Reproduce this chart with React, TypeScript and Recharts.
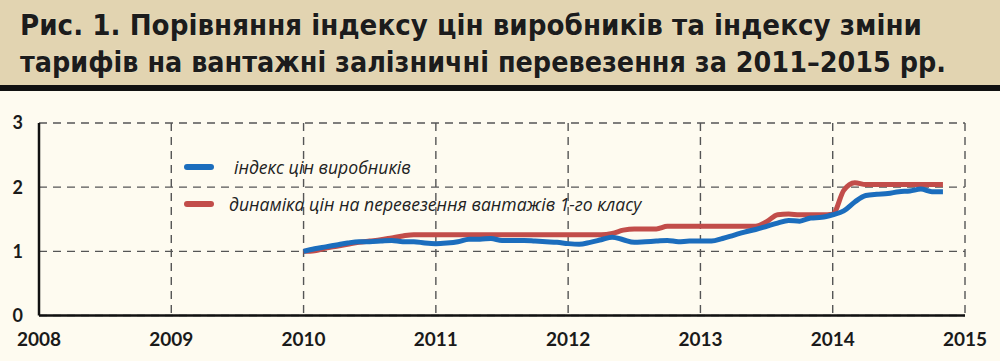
import { LineChart, Line, XAxis, YAxis, CartesianGrid } from 'recharts';

// monthly observations, Jan 2010 .. Nov 2014
const months = [
  '2010-01', '2010-02', '2010-03', '2010-04', '2010-05', '2010-06', '2010-07', '2010-08', '2010-09', '2010-10', '2010-11', '2010-12',
  '2011-01', '2011-02', '2011-03', '2011-04', '2011-05', '2011-06', '2011-07', '2011-08', '2011-09', '2011-10', '2011-11', '2011-12',
  '2012-01', '2012-02', '2012-03', '2012-04', '2012-05', '2012-06', '2012-07', '2012-08', '2012-09', '2012-10', '2012-11', '2012-12',
  '2013-01', '2013-02', '2013-03', '2013-04', '2013-05', '2013-06', '2013-07', '2013-08', '2013-09', '2013-10', '2013-11', '2013-12',
  '2014-01', '2014-02', '2014-03', '2014-04', '2014-05', '2014-06', '2014-07', '2014-08', '2014-09', '2014-10', '2014-11',
];

const producerIndex = [
  1.0, 1.04, 1.07, 1.1, 1.13, 1.15, 1.15, 1.16, 1.17, 1.15, 1.15, 1.13,
  1.12, 1.13, 1.15, 1.19, 1.19, 1.2, 1.17, 1.17, 1.17, 1.16, 1.15, 1.14,
  1.12, 1.11, 1.14, 1.18, 1.22, 1.18, 1.14, 1.15, 1.16, 1.17, 1.15, 1.16,
  1.16, 1.16, 1.2, 1.25, 1.3, 1.34, 1.39, 1.44, 1.48, 1.47, 1.52, 1.53,
  1.57, 1.63, 1.77, 1.87, 1.89, 1.9, 1.93, 1.94, 1.97, 1.93, 1.93,
];

const freightTariff = [
  1.0, 1.01, 1.05, 1.08, 1.11, 1.14, 1.16, 1.18, 1.21, 1.24, 1.26, 1.26,
  1.26, 1.26, 1.26, 1.26, 1.26, 1.26, 1.26, 1.26, 1.26, 1.26, 1.26, 1.26,
  1.26, 1.26, 1.26, 1.26, 1.28, 1.33, 1.35, 1.35, 1.35, 1.39, 1.39, 1.39,
  1.39, 1.39, 1.39, 1.39, 1.39, 1.39, 1.46, 1.57, 1.58, 1.57, 1.57, 1.57,
  1.58, 1.95, 2.07, 2.04, 2.04, 2.04, 2.04, 2.04, 2.04, 2.04, 2.04,
];

const yearTicks = [2008, 2009, 2010, 2011, 2012, 2013, 2014, 2015];
const valueTicks = [0, 1, 2, 3];

const titleLines = [
  'Рис. 1. Порівняння індексу цін виробників та індексу зміни',
  'тарифів на вантажні залізничні перевезення за 2011–2015 рр.',
];

const seriesNames = ['індекс цін виробників', 'динаміка цін на перевезення вантажів 1-го класу'];

const BLUE = '#1b6dbd';
const RED = '#c24d4a';

const data = months.map((m, i) => {
  const [y, mo] = m.split('-').map(Number);
  return { t: y + (mo - 1) / 12, ppi: producerIndex[i], tariff: freightTariff[i] };
});

function LegendBox() {
  const items = [
    { color: BLUE, label: seriesNames[0], gap: 20 },
    { color: RED, label: seriesNames[1], gap: 15 },
  ];
  return (
    <div style={{ position: 'absolute', left: 184, top: 148 }}>
      {items.map((it) => (
        <div key={it.label} style={{ display: 'flex', alignItems: 'center', height: 37 }}>
          <svg width={30} height={8}>
            <line x1={3} y1={4} x2={27} y2={4} stroke={it.color} strokeWidth={6} strokeLinecap="round" />
          </svg>
          <span
            style={{
              marginLeft: it.gap,
              fontFamily: '"Open Sans", sans-serif',
              fontStyle: 'italic',
              fontSize: 17.6,
              color: '#222',
              whiteSpace: 'nowrap',
            }}
          >
            {it.label}
          </span>
        </div>
      ))}
    </div>
  );
}

export default function App() {
  return (
    <div style={{ position: 'relative', width: 1000, height: 361, background: '#fefbf0', overflow: 'hidden' }}>
      <style>{`body{margin:0}`}</style>
      <svg width={1000} height={91} style={{ position: 'absolute', left: 0, top: 0 }}>
        <rect x={0} y={0} width={1000} height={85} fill="#e2d4b1" />
        <rect x={0} y={85} width={1000} height={6} fill="#111" />
        {titleLines.map((line, i) => (
          <text
            key={i}
            x={20}
            y={i === 0 ? 35 : 72}
            textLength={i === 0 ? 902 : 926}
            lengthAdjust="spacingAndGlyphs"
            fill="#1c1c1c"
            stroke="#efe6cf"
            strokeWidth={0.6}
            paintOrder="stroke"
            style={{
              fontFamily: '"Liberation Sans Narrow", "DejaVu Sans Condensed", Roboto, sans-serif',
              fontWeight: 700,
              fontSize: 29,
            }}
          >
            {line}
          </text>
        ))}
      </svg>
      <div style={{ position: 'absolute', left: 0, top: 90 }}>
        <LineChart width={1000} height={271} data={data} margin={{ top: 33, right: 35, left: 0, bottom: 0 }}>
          <CartesianGrid stroke="#555" strokeDasharray="8 6" strokeWidth={1.4} />
          <XAxis
            dataKey="t"
            type="number"
            domain={[2008, 2015]}
            ticks={yearTicks}
            interval={0}
            height={45.5}
            stroke="#111"
            strokeWidth={2.5}
            tickLine={false}
            tickSize={0}
            tickMargin={17}
            tick={{ fill: '#1a1a1a', fontSize: 19, fontWeight: 700, fontFamily: 'Lato, sans-serif' }}
          />
          <YAxis
            type="number"
            domain={[0, 3]}
            ticks={valueTicks}
            interval={0}
            width={39}
            stroke="#111"
            strokeWidth={2.5}
            tickLine={false}
            tickSize={0}
            tickMargin={16}
            tick={{ fill: '#1a1a1a', fontSize: 18, fontWeight: 700, fontFamily: 'Lato, sans-serif' }}
          />
          <Line
            type="monotone"
            dataKey="tariff"
            stroke={RED}
            strokeWidth={5}
            dot={false}
            activeDot={false}
            isAnimationActive={false}
          />
          <Line
            type="monotone"
            dataKey="ppi"
            stroke={BLUE}
            strokeWidth={5}
            dot={false}
            activeDot={false}
            isAnimationActive={false}
          />
        </LineChart>
      </div>
      <LegendBox />
    </div>
  );
}
